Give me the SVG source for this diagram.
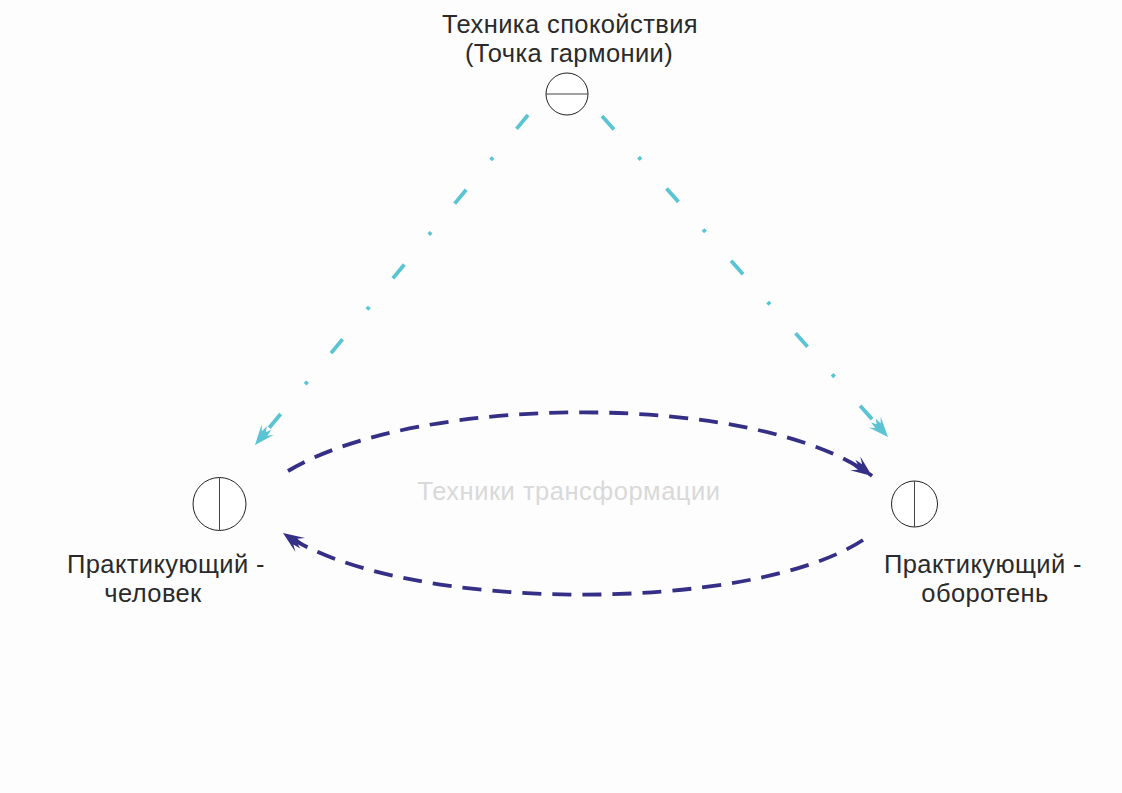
<svg xmlns="http://www.w3.org/2000/svg" width="1122" height="793" viewBox="0 0 1122 793">
  <defs>
    <style>
      .lbl { font-family: "Liberation Sans", Arial, sans-serif; font-size: 25.5px; letter-spacing: 0.4px; fill: #2a2a2a; text-anchor: middle; }
      .mid { font-family: "Liberation Sans", Arial, sans-serif; font-size: 25.5px; letter-spacing: 0.5px; fill: #d9d9d9; text-anchor: middle; }
      .node { fill: #ffffff; stroke: #222222; stroke-width: 1; }
      .div { stroke: #444444; stroke-width: 1; }
      .cyan { fill: none; stroke: #5bc4d2; stroke-width: 3.8; stroke-dasharray: 18 37 3.5 38.5; }
      .blue { fill: none; stroke: #352f85; stroke-width: 3.8; stroke-dasharray: 19 11; }
    </style>
    <marker id="arrCyan" markerUnits="userSpaceOnUse" markerWidth="30" markerHeight="24" viewBox="-26 -12 30 24" refX="0" refY="0" orient="auto">
      <path d="M0,0 L-20,-8 L-15,-3.5 L-22,-3 L-17,0 L-22,3 L-15,3.5 L-20,8 Z" fill="#5bc4d2"/>
    </marker>
    <marker id="arrBlue" markerUnits="userSpaceOnUse" markerWidth="30" markerHeight="24" viewBox="-26 -12 30 24" refX="0" refY="0" orient="auto">
      <path d="M0,0 L-21,-8.5 L-15,-3.5 L-23,-3 L-17,0 L-23,3 L-15,3.5 L-21,8.5 Z" fill="#352f85"/>
    </marker>
  </defs>
  <rect x="0" y="0" width="1122" height="793" fill="#fdfdfd"/>

  <g id="connectors">
    <path class="cyan" d="M528,115 L255,445" marker-end="url(#arrCyan)"/>
    <path class="cyan" d="M602,116 L888,437" marker-end="url(#arrCyan)"/>
    <path class="blue" d="M288,471 C420,392 760,392 872,476" marker-end="url(#arrBlue)"/>
    <path class="blue" d="M863,540 C750,614 400,614 283,533" marker-end="url(#arrBlue)"/>
  </g>

  <g id="node-top">
    <circle class="node" cx="567" cy="94" r="21"/>
    <line class="div" x1="546" y1="94" x2="588" y2="94"/>
    <text class="lbl" x="570" y="33">Техника спокойствия</text>
    <text class="lbl" x="569" y="62">(Точка гармонии)</text>
  </g>

  <g id="node-left">
    <circle class="node" cx="219.5" cy="504" r="26.5"/>
    <line class="div" x1="219.5" y1="477.5" x2="219.5" y2="530.5"/>
    <text class="lbl" x="166" y="573">Практикующий -</text>
    <text class="lbl" x="153" y="602">человек</text>
  </g>

  <g id="node-right">
    <circle class="node" cx="914.5" cy="504" r="23"/>
    <line class="div" x1="914.5" y1="481" x2="914.5" y2="527"/>
    <text class="lbl" x="983" y="573">Практикующий -</text>
    <text class="lbl" x="985" y="602">оборотень</text>
  </g>

  <g id="label-middle">
    <text class="mid" x="569" y="500">Техники трансформации</text>
  </g>
</svg>
